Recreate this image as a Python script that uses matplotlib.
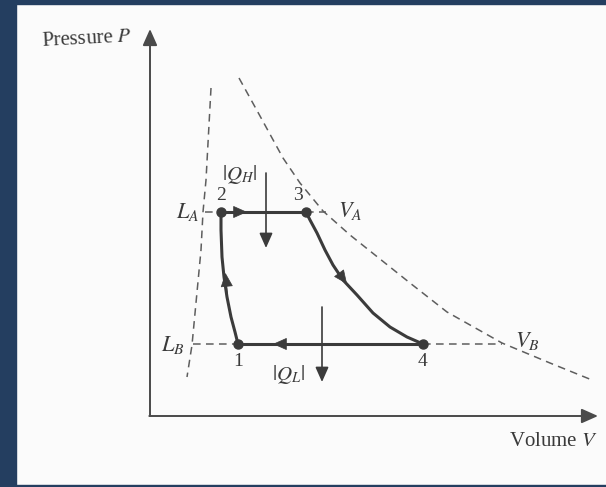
import numpy as np
import matplotlib
matplotlib.use("Agg")
import matplotlib.pyplot as plt
from matplotlib.patches import Rectangle, FancyArrowPatch

plt.rcParams["font.family"] = ["Liberation Serif", "DejaVu Serif"]
plt.rcParams["mathtext.fontset"] = "stix"

# values (V, P), origin at the axes corner
pts_V = [88, 71, 156, 273]          # states 1, 2, 3, 4
pts_P = [72, 204, 204, 72]
pts_lbl = ["1", "2", "3", "4"]

c12_V = [88, 85, 81, 77, 74, 72, 71, 71]
c12_P = [72, 84, 99, 119, 139, 159, 186, 204]
c34_V = [156, 160, 167, 175, 183, 193, 207, 223, 240, 257, 273]
c34_P = [204, 196, 183, 166, 151, 136, 121, 103, 89, 79, 72]

# dashed curves
adL_V = [61, 56, 53, 51, 42, 37]
adL_P = [328, 236, 204, 166, 71, 39]
isoR_V = [89, 110, 133, 150, 173, 200, 230, 260, 297, 352, 400, 442]
isoR_P = [338, 300, 258, 233, 205, 181, 157, 133, 104, 73, 53, 36]

LINE = "#3b3b3b"
DASH = "#5e5e5e"
TXT = "#3a3a3a"
NAVY = "#243e60"
HEAD = "-|>,head_length=0.45,head_width=0.2"

fig = plt.figure(figsize=(6.06, 4.87), dpi=100, facecolor="#fbfbfb")
ax = fig.add_axes([0, 0, 1, 1])
ax.set_xlim(-150, 456)
ax.set_ylim(-71, 416)
ax.axis("off")

# axes with arrows
ax.annotate("", xy=(0, 387), xytext=(0, 0),
            arrowprops=dict(arrowstyle=HEAD, color="#4a4a4a", lw=1.4,
                            mutation_scale=22, shrinkA=0, shrinkB=0))
ax.annotate("", xy=(448, 0), xytext=(-0.7, 0),
            arrowprops=dict(arrowstyle=HEAD, color="#4a4a4a", lw=1.4,
                            mutation_scale=22, shrinkA=0, shrinkB=0))
ax.text(-17, 377, r"Pressure $P$", ha="right", va="center", fontsize=15,
        color=TXT, rotation=3)
ax.text(448, -25, r"Volume $V$", ha="right", va="center", fontsize=15,
        color=TXT)

# dashed guide curves
dash = dict(color=DASH, lw=1.1, ls=(0, (5, 3.5)))
ax.plot(adL_V, adL_P, **dash)
ax.plot(isoR_V, isoR_P, **dash)
ax.plot([55, 71], [204, 204], **dash)
ax.plot([156, 176], [204, 204], **dash)
ax.plot([43, 88], [72, 72], **dash)
ax.plot([273, 352], [72, 72], **dash)

# cycle
ax.plot(c12_V, c12_P, color=LINE, lw=2.2, solid_capstyle="round",
        solid_joinstyle="round")
ax.plot(c34_V, c34_P, color=LINE, lw=2.2, solid_capstyle="round",
        solid_joinstyle="round")
ax.plot([pts_V[1], pts_V[2]], [pts_P[1], pts_P[2]], color=LINE, lw=2.2)
ax.plot([pts_V[3], pts_V[0]], [pts_P[3], pts_P[0]], color=LINE, lw=2.2)
ax.plot(pts_V, pts_P, "o", color=LINE, ms=6.5, zorder=5)

def head(x0, y0, x1, y1):
    ax.add_patch(FancyArrowPatch((x0, y0), (x1, y1), arrowstyle=HEAD,
                                 mutation_scale=20, color=LINE, lw=0.5,
                                 shrinkA=0, shrinkB=0, zorder=4))

head(80, 204, 97, 204)
head(140, 72, 123, 72)
head(77.5, 122, 75.5, 143)
head(183, 151, 197, 132)

# heat arrows
ax.annotate("", xy=(116, 168), xytext=(116, 243),
            arrowprops=dict(arrowstyle=HEAD, color=LINE, lw=1.2,
                            mutation_scale=20, shrinkA=0, shrinkB=0))
ax.annotate("", xy=(172, 34), xytext=(172, 109),
            arrowprops=dict(arrowstyle=HEAD, color=LINE, lw=1.2,
                            mutation_scale=20, shrinkA=0, shrinkB=0))

# labels
for v, p, s in zip(pts_V, pts_P, pts_lbl):
    dy = 16 if p > 100 else -18
    ax.text(v - (8 if s == "3" else 0), p + dy, s, ha="center", va="center",
            fontsize=14, color=TXT)
ax.text(49, 204, r"$L_A$", ha="right", va="center", fontsize=16, color=TXT)
ax.text(35, 71, r"$L_B$", ha="right", va="center", fontsize=16, color=TXT)
ax.text(188, 205, r"$V_A$", ha="left", va="center", fontsize=16, color=TXT)
ax.text(365, 75, r"$V_B$", ha="left", va="center", fontsize=16, color=TXT)
ax.text(90, 241, r"$|Q_H|$", ha="center", va="center", fontsize=15, color=TXT)
ax.text(139, 41, r"$|Q_L|$", ha="center", va="center", fontsize=15, color=TXT)

# dark frame strips
fig.patches.append(Rectangle((0, 0), 16 / 606, 1, transform=fig.transFigure,
                             color=NAVY, zorder=10))
fig.patches.append(Rectangle((0, 1 - 4 / 487), 1, 4 / 487,
                             transform=fig.transFigure, color=NAVY, zorder=10))
fig.patches.append(Rectangle((0, 0), 1, 2 / 487, transform=fig.transFigure,
                             color=NAVY, zorder=10))

fig.savefig("out.png", dpi=100, facecolor=fig.get_facecolor())
